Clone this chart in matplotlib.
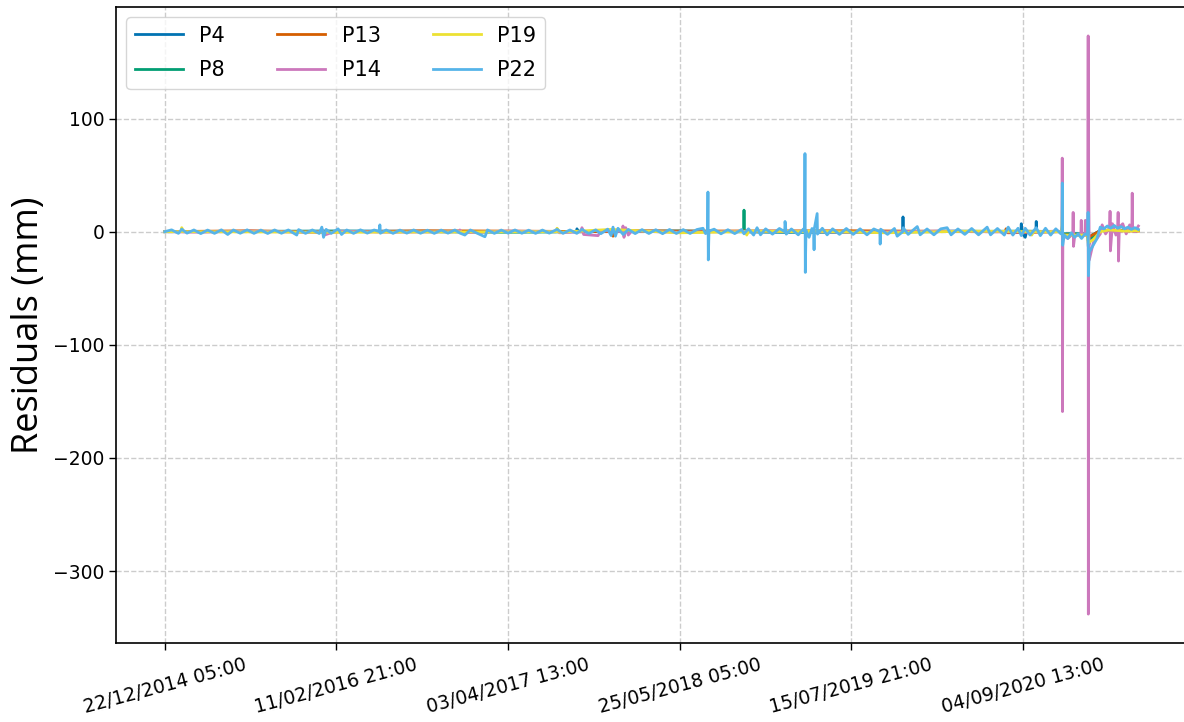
import matplotlib
matplotlib.use("Agg")
import matplotlib.pyplot as plt

# hourly sample index -> residual (mm)
p4_x = [0, 12000, 23990, 24010, 24100, 30000, 36000, 42980, 43000, 43020,
        46000, 49870, 49890, 49900, 50120, 50200, 50740, 50760, 50780, 52260,
        52280, 52300, 53770, 53790, 54000, 54500, 56710]
p4_y = [0, 0.5, 0, 2.5, 0, 0.5, -0.5, 0, 13, 0,
        0.5, 0, 7, -0.5, -5, 0, 0, 9, 0, 0,
        3, -2, -2, -13, -3, 1, 1]

p8_x = [0, 10000, 20000, 30000, 33720, 33740, 33760, 40000, 50000, 52260,
        52280, 52300, 53770, 53790, 54500, 56710]
p8_y = [0, 0.5, -0.5, 0.5, 0, 19, 0, -0.5, 0.5, 0,
        5, -2, -2, -8, 1, 1]

p13_x = [0, 5000, 9000, 15000, 20000, 26090, 26110, 26200, 30000, 40000,
         48980, 49000, 49100, 52260, 52280, 52300, 53770, 53790, 54500, 56710]
p13_y = [0, 0.8, -0.5, 0.8, 0.5, 0, -4, 1, 0.5, 0.8,
         0, 2.5, -1, 0, 4, -3, -3, -5, 1, 0.5]

p14_x = [0, 2000, 5000, 8000, 9130, 9150, 9300, 10000, 13000, 17170,
         17190, 17300, 20000, 22830, 22850, 23000, 24280, 24300, 24400, 25240,
         25400, 26670, 26690, 26750, 26850, 27000, 27200, 30000, 35000, 40000,
         45000, 50000, 52000, 52260, 52275, 52290, 52310, 52600, 52890, 52910,
         52930, 53000, 53360, 53380, 53400, 53600, 53620, 53640, 53770, 53785,
         53795, 53810, 53850, 54080, 54300, 54490, 54600, 54800, 55040, 55060,
         55080, 55200, 55400, 55510, 55530, 55550, 55600, 55800, 56000, 56200,
         56330, 56350, 56370, 56500, 56710]
p14_y = [0, -0.5, 0.5, -0.5, 0, 2.5, -3, 0.5, -0.5, 0,
         1.5, -1, 0.5, 0, 2.5, -1, 0, 3.5, -2.5, -3.5,
         1, 0, 5, -5, 3.5, -3, 0.5, -0.5, 0.5, -0.5,
         0.5, -0.5, 0.5, 0, 65, -159, -3, -6, -2, 17,
         -13, -4, -2, 10, -2, -2, 10, -3, -2, 173,
         -338, 55, -25, -10, -6, -2, 6, -2, 4, 18,
         -17, 7, -3, 3, 17, -26, 4, 7, -2, 6,
         3, 34, 2, 0, 5]

p19_x = [0, 970, 990, 1100, 10000, 22830, 22850, 23000, 26000, 30000,
         33880, 33900, 34000, 37380, 37400, 37500, 42000, 47000, 50480, 50500,
         50600, 52260, 52280, 52300, 53770, 53790, 54080, 54490, 55000, 56000,
         56710]
p19_y = [0, 0, 3.5, 0, -0.5, 0, 3, -0.5, 2, -1,
         0, -3, 0.5, 0, -4, 0.5, -1, 0.5, 0, -3,
         0, 0, 19, -3, -3, -10, -7, 0, 1.5, 0.5,
         1]

p22_x = [0, 400, 800, 990, 1300, 1700, 2100, 2500, 2900, 3300,
         3670, 4000, 4400, 4800, 5200, 5600, 6000, 6400, 6800, 7200,
         7690, 7800, 8200, 8600, 9000, 9150, 9250, 9400, 9700, 10100,
         10300, 10600, 11000, 11400, 11800, 12200, 12510, 12530, 12560, 12900,
         13300, 13700, 14100, 14500, 14900, 15300, 15700, 16100, 16500, 16900,
         17200, 17480, 17800, 18200, 18650, 18800, 19200, 19600, 20000, 20400,
         20800, 21200, 21600, 22000, 22400, 22850, 23200, 23600, 24000, 24300,
         24700, 25100, 25400, 25800, 26000, 26110, 26250, 26400, 26700, 27000,
         27400, 27800, 28200, 28600, 29000, 29400, 29800, 30200, 30600, 31000,
         31350, 31500, 31620, 31640, 31660, 31700, 32000, 32400, 32800, 33200,
         33600, 33740, 34000, 34300, 34500, 34700, 35000, 35400, 35800, 36110,
         36130, 36200, 36500, 36900, 37200, 37270, 37290, 37310, 37350, 37530,
         37700, 37800, 37820, 37840, 38000, 38020, 38300, 38580, 38900, 39300,
         39700, 40100, 40500, 40900, 41300, 41650, 41670, 41700, 42100, 42500,
         42660, 42990, 43010, 43300, 43830, 44000, 44400, 44800, 45200, 45570,
         45800, 46200, 46600, 47000, 47400, 47900, 48100, 48500, 48900, 49130,
         49400, 49700, 49890, 50120, 50400, 50760, 51000, 51300, 51600, 51900,
         52200, 52260, 52280, 52300, 52390, 52600, 52800, 53000, 53200, 53400,
         53600, 53760, 53780, 53800, 53850, 54080, 54300, 54490, 54700, 54900,
         55100, 55300, 55500, 55700, 55900, 56100, 56300, 56500, 56710]
p22_y = [0, 1.6, -1.5, 2.2, -1.3, 1.5, -1.7, 1.4, -1.5, 1.6,
         -2.5, 1.5, -1.4, 1.6, -1.5, 1.4, -1.6, 1.5, -1.4, 1.5,
         -3.0, 1.8, -1.5, 1.5, -1.6, 4.0, -5.0, 2.0, -1.5, 2.5,
         -2.5, 1.5, -1.5, 1.6, -1.3, 1.5, 0, 6.0, -1.4, 1.5,
         -1.5, 1.4, -1.3, 1.5, -1.4, 1.3, -1.5, 1.4, -1.3, 1.5,
         -1.3, -3.0, 1.5, -1.4, -4.5, 1.5, -1.5, 1.4, -1.3, 1.5,
         -1.4, 1.3, -1.5, 1.4, -1.3, 2.0, -1.5, 1.5, -1.5, 2.0,
         -1.6, 1.6, -1.8, 2.2, -3.5, 4.0, -4.0, 3.0, -2.5, 2.0,
         -1.7, 1.8, -1.6, 1.7, -1.8, 1.9, -1.6, 1.8, -1.6, 1.9,
         3.0, -1.7, 0, 35.0, -25.0, 0.5, 2.2, -1.9, 1.7, -1.7,
         1.9, -1.9, 2.5, -3.0, 3.5, -2.8, 2.5, -2.2, 2.8, 0,
         9.0, -2.2, 2.4, -2.8, 2.4, 0, 69.0, -36.0, 1.0, -5.0,
         2.8, 0, -16.0, 3.0, 16.0, -2.2, 3.0, -2.8, 2.5, -2.4,
         2.8, -2.4, 2.5, -2.8, 2.4, 0, -11.0, 2.2, -2.4, 2.8,
         -4.0, 0, 3.5, -2.4, 4.5, -2.8, 2.4, -2.8, 2.5, 3.5,
         -2.8, 2.4, -2.4, 2.8, -2.8, 4.0, -2.8, 2.8, -3.0, 4.0,
         -3.0, 3.0, -3.5, 3.0, -3.0, 3.5, -3.5, 3.0, -3.0, 2.5,
         -2.0, 0, 43.0, -12.0, -3.0, -6.0, -1.0, -5.0, -2.0, -6.0,
         -2.0, -3.0, 17.0, -39.0, -18.0, -12.0, -6.0, 4.0, 2.5, 5.0,
         3.0, 5.5, 3.0, 4.5, 2.5, 4.0, 2.0, 3.5, 2.0]

series = ["P4", "P8", "P13", "P14", "P19", "P22"]
colors = ["#0173B2", "#029E73", "#D55E00", "#CC78BC", "#ECE133", "#56B4E9"]
xs = [p4_x, p8_x, p13_x, p14_x, p19_x, p22_x]
ys = [p4_y, p8_y, p13_y, p14_y, p19_y, p22_y]

tick_pos = [0, 10000, 20000, 30000, 40000, 50000]
tick_labels = ["22/12/2014 05:00", "11/02/2016 21:00", "03/04/2017 13:00",
               "25/05/2018 05:00", "15/07/2019 21:00", "04/09/2020 13:00"]

fig = plt.figure(figsize=(11.84, 7.22), dpi=100)
ax = fig.add_axes([0.098, 0.1094, 0.9046, 0.8809])

for name, c, x, y in zip(series, colors, xs, ys):
    ax.plot(x, y, color=c, lw=2, label=name)

ax.grid(True, linestyle="--", color="#cccccc", linewidth=1)
ax.set_axisbelow(True)
ax.set_xticks(tick_pos)
ax.set_xticklabels(tick_labels, rotation=15, ha="center")
ax.set_yticks([-300, -200, -100, 0, 100])
ax.tick_params(labelsize=13.5, length=5, width=1)
for s in ax.spines.values():
    s.set_linewidth(1.2)

ax.set_ylabel("Residuals (mm)", fontsize=26, family=["Open Sans", "DejaVu Sans"])
ax.legend(ncol=3, loc="upper left", fontsize=15, labelspacing=0.7,
          handlelength=2.3, columnspacing=2.5)

plt.savefig("out.png", dpi=100)
